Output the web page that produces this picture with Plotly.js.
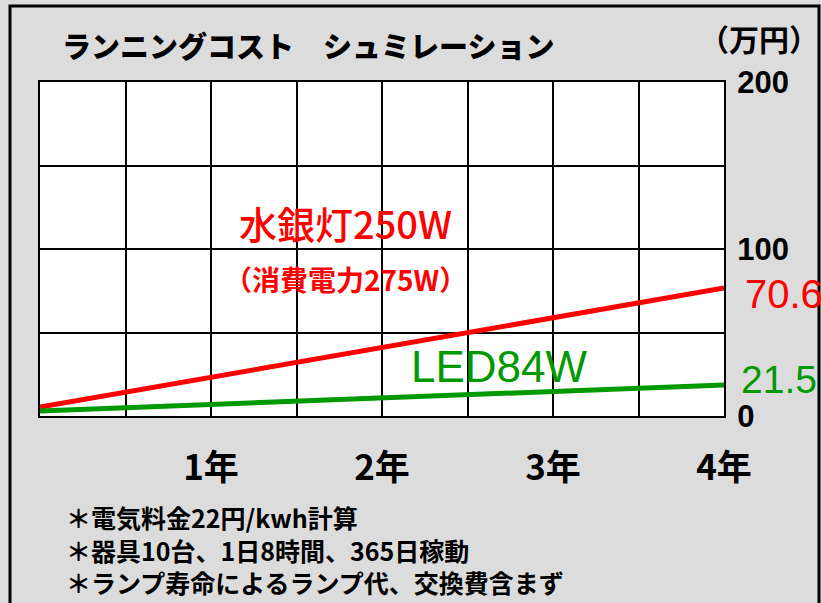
<!DOCTYPE html>
<html>
<head>
<meta charset="utf-8">
<script src="https://cdn.plot.ly/plotly-3.0.1.min.js"></script>
<style>
html,body{margin:0;padding:0;background:#dcdcdc;}
#chart{width:822px;height:603px;}
</style>
</head>
<body>
<div id="chart"></div>
<script>
// Data
var years = [0, 4];
var mercuryCost = [5.4, 76.6];   // 水銀灯250W (万円)
var ledCost = [3.0, 18.6];       // LED84W (万円)
var mercuryEndLabel = '70.6';
var ledEndLabel = '21.5';
var xTickVals = [0.5, 1, 1.5, 2, 2.5, 3, 3.5, 4];
var xTickText = ['', '1年', '', '2年', '', '3年', '', '4年'];
var yTickVals = [0, 50, 100, 150, 200];
var yTickText = ['0', '', '100', '', '200'];
var footnotes = ['＊電気料金22円/kwh計算', '＊器具10台、1日8時間、365日稼動', '＊ランプ寿命によるランプ代、交換費含まず'];

var JP = '"Noto Sans CJK JP", sans-serif';
var AR = '"Liberation Sans", Arial, sans-serif';

// pixel helpers for paper coords (plot area: x 40..724, y 82..416)
function px(x){ return (x - 40) / 684; }
function py(y){ return (416 - y) / 334; }

var traces = [
  {x: years, y: mercuryCost, mode: 'lines', line: {color: '#ff0000', width: 5}, hoverinfo: 'skip'},
  {x: years, y: ledCost, mode: 'lines', line: {color: '#009900', width: 5}, hoverinfo: 'skip'}
];

var annotations = [
  {text: '水銀灯250W', xref: 'paper', yref: 'paper', x: px(345), y: py(222), showarrow: false,
   font: {family: JP, size: 38, color: '#ff0000', weight: 500}, xanchor: 'center', yanchor: 'middle'},
  {text: '（消費電力275W）', xref: 'paper', yref: 'paper', x: px(345), y: py(279), showarrow: false,
   font: {family: JP, size: 28, color: '#ff0000', weight: 'bold'}, xanchor: 'center', yanchor: 'middle'},
  {text: 'LED84W', xref: 'paper', yref: 'paper', x: px(499), y: py(366), showarrow: false,
   font: {family: AR, size: 44, color: '#009900'}, xanchor: 'center', yanchor: 'middle'},
  {text: mercuryEndLabel, xref: 'paper', yref: 'paper', x: px(743), y: py(294), showarrow: false,
   font: {family: AR, size: 40, color: '#ff0000'}, xanchor: 'left', yanchor: 'middle'},
  {text: ledEndLabel, xref: 'paper', yref: 'paper', x: px(739), y: py(379), showarrow: false,
   font: {family: AR, size: 39, color: '#009900'}, xanchor: 'left', yanchor: 'middle'},
  {text: '（万円）', xref: 'paper', yref: 'paper', x: px(821), y: py(38), showarrow: false,
   font: {family: JP, size: 30, color: '#000000', weight: 'bold'}, xanchor: 'right', yanchor: 'middle'},
  {text: footnotes.join('<br>'), xref: 'paper', yref: 'paper', x: px(64), y: py(549), align: 'left',
   showarrow: false, xanchor: 'left', yanchor: 'middle', font: {family: JP, size: 25, color: '#000000', weight: 'bold'}}
];

var layout = {
  width: 822, height: 603,
  paper_bgcolor: '#dcdcdc', plot_bgcolor: '#ffffff',
  margin: {l: 40, r: 98, t: 82, b: 187, pad: 0},
  showlegend: false,
  title: {text: 'ランニングコスト　シュミレーション', xref: 'container', yref: 'container',
    x: 62 / 822, xanchor: 'left', y: 1 - 48 / 603, yanchor: 'middle',
    font: {family: JP, size: 29, color: '#000000', weight: 900}},
  xaxis: {range: [0, 4], tickmode: 'array', tickvals: xTickVals, ticktext: xTickText,
    showgrid: true, gridcolor: '#000000', gridwidth: 2, zeroline: false,
    showline: true, linecolor: '#000000', linewidth: 2, mirror: true,
    ticks: 'outside', ticklen: 20, tickcolor: 'rgba(0,0,0,0)',
    tickfont: {family: JP, size: 35, color: '#000000', weight: 'bold'}, fixedrange: true},
  yaxis: {range: [0, 200], side: 'right', tickmode: 'array', tickvals: yTickVals, ticktext: yTickText,
    showgrid: true, gridcolor: '#000000', gridwidth: 2, zeroline: false,
    showline: true, linecolor: '#000000', linewidth: 2, mirror: true,
    ticks: 'outside', ticklen: 5, tickcolor: 'rgba(0,0,0,0)',
    tickfont: {family: AR, size: 31, color: '#000000', weight: 'bold'}, fixedrange: true},
  annotations: annotations,
  shapes: [
    {type: 'rect', xref: 'paper', yref: 'paper', x0: px(10), x1: px(819), y0: py(640), y1: py(6),
     line: {color: '#000000', width: 3}, fillcolor: 'rgba(0,0,0,0)', layer: 'below'}
  ]
};

Plotly.newPlot('chart', traces, layout, {displayModeBar: false, staticPlot: true});
</script>
</body>
</html>
